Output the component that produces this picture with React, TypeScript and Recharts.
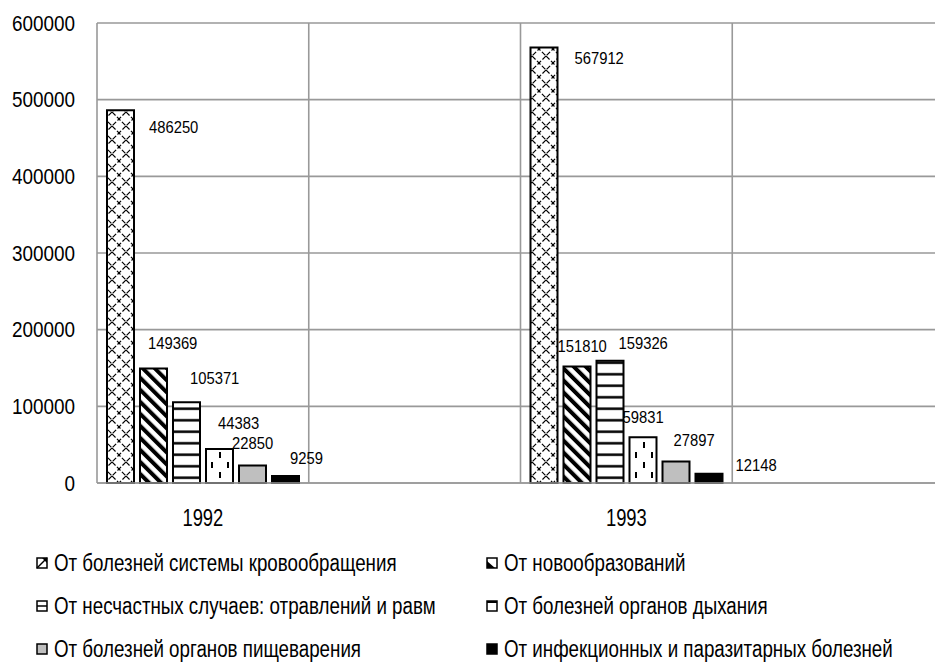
import React from 'react';
import { BarChart, Bar, XAxis, YAxis, CartesianGrid, Legend, LabelList } from 'recharts';

const FONT = "'Liberation Sans', Arial, sans-serif";

const categories = ['1992', '', '1993', ''];
const seriesNames = [
  'От болезней системы кровообращения',
  'От новообразований',
  'От несчастных случаев: отравлений и равм',
  'От болезней органов дыхания',
  'От болезней органов пищеварения',
  'От инфекционных и паразитарных болезней',
];
const circulatory = [486250, null, 567912, null];
const neoplasms = [149369, null, 151810, null];
const accidents = [105371, null, 159326, null];
const respiratory = [44383, null, 59831, null];
const digestive = [22850, null, 27897, null];
const infectious = [9259, null, 12148, null];
const yTicks = [0, 100000, 200000, 300000, 400000, 500000, 600000];

const seriesValues = [circulatory, neoplasms, accidents, respiratory, digestive, infectious];
const seriesKeys = ['s1', 's2', 's3', 's4', 's5', 's6'];
const seriesFills = ['url(#pCross)', 'url(#pDiag)', 'url(#pHoriz)', 'url(#pDash)', '#bfbfbf', '#000000'];

// label offsets relative to bar top-right corner [dx, dy], per category index
const labelOffsets: (number[] | null)[][] = [
  [[15, 17], null, [17, 10], null],
  [[-19, -25], null, [-33, -21], null],
  [[-10, -24], null, [-5, -18], null],
  [[-15, -26], null, [-34, -20], null],
  [[-34, -22], null, [-16, -22], null],
  [[-9, -18], null, [13, -9], null],
];

const data = categories.map((c, i) => {
  const row: any = { year: c };
  seriesKeys.forEach((k, s) => {
    row[k] = seriesValues[s][i];
  });
  return row;
});

const SText = ({ x, y, sx, size, anchor, dy, children }: any) => (
  <text
    transform={`translate(${x},${y}) scale(${sx},1)`}
    x={0}
    y={0}
    dy={dy}
    textAnchor={anchor}
    fontSize={size}
    fontFamily={FONT}
    fill="#000"
  >
    {children}
  </text>
);

const makeLabel = (s: number) => (props: any) => {
  const { x, y, width, value } = props;
  if (value == null) return null;
  const ci = seriesValues[s].indexOf(value);
  const off = ci >= 0 ? labelOffsets[s][ci] : null;
  if (!off) return null;
  return (
    <SText x={Number(x) + Number(width) + off[0]} y={Number(y) + off[1]} sx={0.87} size={17} anchor="start" dy="0.35em">
      {value}
    </SText>
  );
};

const YTick = (props: any) => {
  const { x, y, payload } = props;
  return (
    <SText x={x} y={y} sx={0.86} size={22} anchor="end" dy="0.355em">
      {payload.value}
    </SText>
  );
};

const XTick = (props: any) => {
  const { x, y, payload } = props;
  if (!payload.value) return null;
  return (
    <SText x={x} y={y} sx={0.8} size={23} anchor="middle" dy="0.71em">
      {payload.value}
    </SText>
  );
};

const Marker = ({ i }: { i: number }) => {
  const common = { x: 1, y: 1, width: 10, height: 10, stroke: '#000', strokeWidth: 1.5 };
  return (
    <svg width={12} height={12} style={{ marginRight: 6, flex: 'none' }}>
      {i === 0 && (
        <g>
          <rect {...common} fill="#fff" />
          <line x1={1} y1={11} x2={11} y2={1} stroke="#000" strokeWidth={1.5} />
          <polygon points="6,1 11,1 11,6" fill="#000" />
        </g>
      )}
      {i === 1 && (
        <g>
          <rect {...common} fill="#fff" />
          <polygon points="1,4 1,11 9,11" fill="#000" />
        </g>
      )}
      {i === 2 && (
        <g>
          <rect {...common} fill="#fff" />
          <line x1={1} y1={6} x2={11} y2={6} stroke="#000" strokeWidth={1.5} />
        </g>
      )}
      {i === 3 && (
        <g>
          <rect {...common} fill="#fff" />
          <line x1={1} y1={2} x2={11} y2={2} stroke="#000" strokeWidth={2} />
        </g>
      )}
      {i === 4 && <rect {...common} fill="#bfbfbf" />}
      {i === 5 && <rect {...common} fill="#000" />}
    </svg>
  );
};

const legendRows = [29, 72, 115];
const legendCols = [36, 486];

const renderLegend = () => (
  <div style={{ position: 'relative', width: 935, height: 130, fontFamily: FONT }}>
    {seriesNames.map((name, i) => (
      <div
        key={name}
        style={{
          position: 'absolute',
          left: legendCols[i % 2],
          top: legendRows[Math.floor(i / 2)] - 15,
          height: 30,
          display: 'flex',
          alignItems: 'center',
          fontSize: 23,
          color: '#000',
          whiteSpace: 'nowrap',
        }}
      >
        <Marker i={i} />
        <span style={{ display: 'inline-block', transform: 'scaleX(0.815)', transformOrigin: 'left center' }}>{name}</span>
      </div>
    ))}
  </div>
);

export default function App() {
  return (
    <div style={{ position: 'absolute', left: 0, top: 0, width: 935, height: 664, overflow: 'hidden', background: '#fff' }}>
      <BarChart
        width={960}
        height={664}
        data={data}
        margin={{ top: 23, right: 16, left: 0, bottom: 0 }}
        barSize={27}
        barGap={6}
      >
        <defs>
          <pattern id="pCross" patternUnits="userSpaceOnUse" width={14} height={14}>
            <rect width={14} height={14} fill="#fff" />
            <path d="M0,0 L14,14 M14,0 L0,14" stroke="#000" strokeWidth={1.2} strokeDasharray="5 2" />
          </pattern>
          <pattern id="pDiag" patternUnits="userSpaceOnUse" width={8.5} height={8.5} patternTransform="rotate(-45)">
            <rect width={8.5} height={8.5} fill="#fff" />
            <rect width={4} height={8.5} fill="#000" />
          </pattern>
          <pattern id="pHoriz" patternUnits="userSpaceOnUse" width={10} height={11.5}>
            <rect width={10} height={11.5} fill="#fff" />
            <rect y={5} width={10} height={2.5} fill="#000" />
          </pattern>
          <pattern id="pDash" patternUnits="userSpaceOnUse" width={16} height={20}>
            <rect width={16} height={20} fill="#fff" />
            <rect x={3} y={2} width={2} height={6} fill="#000" />
            <rect x={11} y={12} width={2} height={6} fill="#000" />
          </pattern>
        </defs>
        <CartesianGrid
          stroke="#999"
          strokeWidth={1.6}
          verticalCoordinatesGenerator={({ offset }: any) =>
            [0, 1, 2, 3, 4].map((i) => offset.left + (i * offset.width) / categories.length)
          }
        />
        <XAxis
          dataKey="year"
          height={51}
          tickLine={false}
          tickSize={0}
          tickMargin={27}
          axisLine={{ stroke: '#999', strokeWidth: 1.6 }}
          tick={<XTick />}
          interval={0}
        />
        <YAxis
          width={97}
          domain={[0, 600000]}
          ticks={yTicks}
          axisLine={false}
          tickLine={false}
          tickSize={0}
          tickMargin={22}
          tick={<YTick />}
        />
        <Legend verticalAlign="bottom" content={renderLegend} wrapperStyle={{ left: 0, width: 935, height: 130 }} />
        {seriesKeys.map((k, s) => (
          <Bar
            key={k}
            dataKey={k}
            name={seriesNames[s]}
            fill={seriesFills[s]}
            stroke="#000"
            strokeWidth={2}
            isAnimationActive={false}
          >
            <LabelList dataKey={k} content={makeLabel(s)} />
          </Bar>
        ))}
      </BarChart>
    </div>
  );
}
